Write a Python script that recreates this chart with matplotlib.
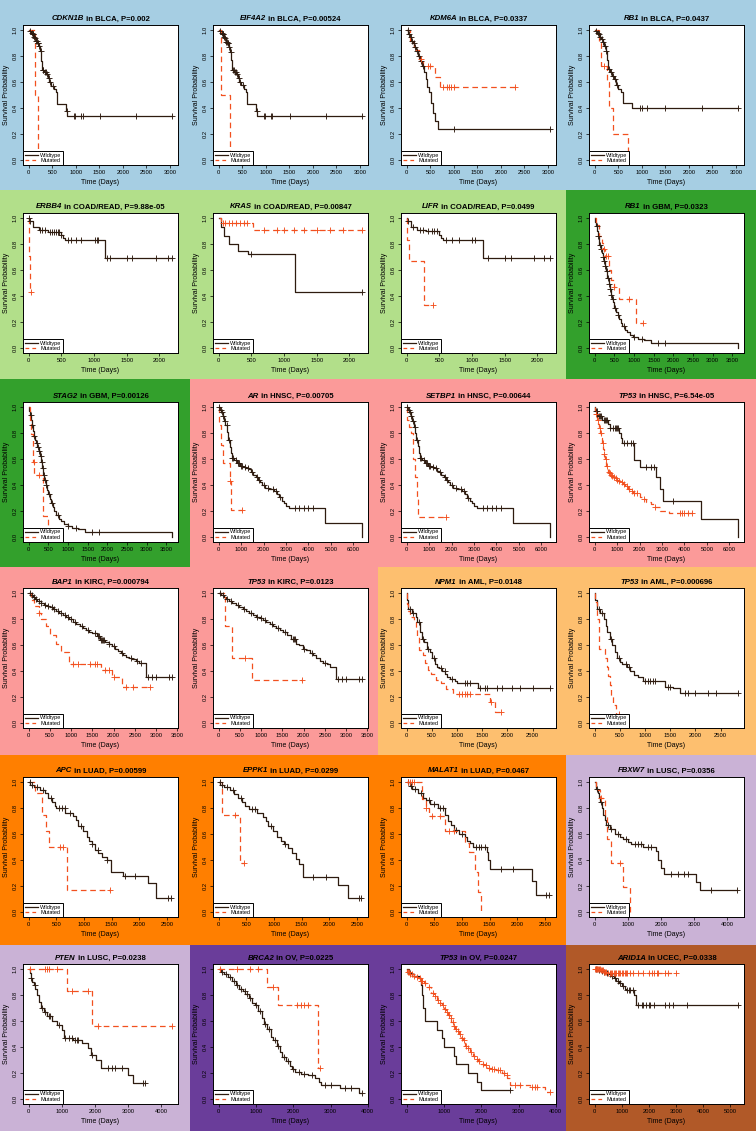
import numpy as np
import matplotlib
matplotlib.use("Agg")
import matplotlib.pyplot as plt
from matplotlib.patches import Rectangle
from matplotlib.lines import Line2D

plt.rcParams['font.family'] = ['Liberation Sans', 'DejaVu Sans']

W, H = 756, 1131

# ---------------- panel meta data ----------------
GENES = ['CDKN1B', 'EIF4A2', 'KDM6A', 'RB1',
         'ERBB4', 'KRAS', 'LIFR', 'RB1',
         'STAG2', 'AR', 'SETBP1', 'TP53',
         'BAP1', 'TP53', 'NPM1', 'TP53',
         'APC', 'EPPK1', 'MALAT1', 'FBXW7',
         'PTEN', 'BRCA2', 'TP53', 'ARID1A']
CANCERS = ['BLCA', 'BLCA', 'BLCA', 'BLCA',
           'COAD/READ', 'COAD/READ', 'COAD/READ', 'GBM',
           'GBM', 'HNSC', 'HNSC', 'HNSC',
           'KIRC', 'KIRC', 'AML', 'AML',
           'LUAD', 'LUAD', 'LUAD', 'LUSC',
           'LUSC', 'OV', 'OV', 'UCEC']
PVALUES = ['0.002', '0.00524', '0.0337', '0.0437',
           '9.88e-05', '0.00847', '0.0499', '0.0323',
           '0.00126', '0.00705', '0.00644', '6.54e-05',
           '0.000794', '0.0123', '0.0148', '0.000696',
           '0.00599', '0.0299', '0.0467', '0.0356',
           '0.0238', '0.0225', '0.0247', '0.0338']
XMAX = [3050, 3050, 3050, 3050,
        2200, 2200, 2200, 3650,
        3650, 6400, 6400, 6400,
        3380, 3380, 2850, 2850,
        2600, 2600, 2600, 4330,
        4330, 3850, 3850, 5300]
XSTEP = [500, 500, 500, 500,
         500, 500, 500, 500,
         500, 1000, 1000, 1000,
         500, 500, 500, 500,
         500, 500, 500, 1000,
         1000, 1000, 1000, 1000]
CANCER_COLORS = {'BLCA': '#a6cee3', 'COAD/READ': '#b2df8a', 'GBM': '#33a02c',
                 'HNSC': '#fb9a99', 'KIRC': '#fb9a99', 'AML': '#fdbf6f',
                 'LUAD': '#ff7f00', 'LUSC': '#cab2d6', 'OV': '#6a3d9a',
                 'UCEC': '#b15928'}
LEGEND_LABELS = ['Wildtype', 'Mutated']

# ---------------- curve data (event times, survival after event, censor times) ----------------
# 1 CDKN1B BLCA
wt01_t = [20, 50, 80, 110, 130, 150, 180, 210, 240, 260, 290, 330, 370, 400, 440, 480, 540, 570, 600, 800, 820]
wt01_s = [0.99, 0.98, 0.97, 0.95, 0.94, 0.92, 0.90, 0.88, 0.84, 0.76, 0.69, 0.68, 0.66, 0.63, 0.60, 0.57, 0.55, 0.52, 0.43, 0.38, 0.34]
wt01_c = [30, 60, 90, 100, 120, 140, 160, 170, 190, 200, 220, 250, 300, 310, 340, 360, 380, 420, 460, 520, 810, 960, 980, 1100, 1150, 1520, 2290, 3050]
mu01_t = [130, 200]
mu01_s = [0.5, 0.0]
mu01_c = []
# 2 EIF4A2 BLCA
wt02_t = [20, 50, 80, 110, 130, 150, 180, 210, 240, 260, 290, 330, 370, 400, 440, 480, 540, 570, 600, 800, 820]
wt02_s = [0.99, 0.98, 0.97, 0.95, 0.94, 0.91, 0.90, 0.87, 0.83, 0.77, 0.69, 0.68, 0.66, 0.63, 0.60, 0.58, 0.55, 0.52, 0.43, 0.38, 0.34]
wt02_c = [30, 60, 90, 100, 120, 140, 160, 170, 190, 200, 220, 250, 300, 320, 340, 360, 380, 420, 460, 520, 810, 960, 980, 1100, 1140, 1520, 2290, 3050]
mu02_t = [55, 245]
mu02_s = [0.5, 0.0]
mu02_c = []
# 3 KDM6A BLCA
wt03_t = [30, 60, 100, 130, 160, 200, 240, 280, 320, 360, 400, 440, 480, 520, 560, 600, 660]
wt03_s = [0.97, 0.95, 0.92, 0.90, 0.87, 0.84, 0.80, 0.76, 0.72, 0.68, 0.62, 0.56, 0.52, 0.44, 0.36, 0.30, 0.24]
wt03_c = [20, 50, 80, 120, 150, 180, 220, 260, 300, 350, 1000, 3050]
mu03_t = [60, 150, 250, 350, 600, 700]
mu03_s = [0.92, 0.85, 0.78, 0.72, 0.64, 0.56]
mu03_c = [300, 450, 500, 780, 850, 900, 950, 1000, 2300]
# 4 RB1 BLCA
wt04_t = [20, 50, 80, 110, 140, 170, 200, 230, 260, 290, 330, 370, 410, 450, 500, 550, 600, 800]
wt04_s = [0.99, 0.98, 0.97, 0.95, 0.93, 0.91, 0.88, 0.84, 0.77, 0.70, 0.68, 0.65, 0.62, 0.58, 0.55, 0.52, 0.44, 0.40]
wt04_c = [30, 60, 90, 120, 150, 180, 210, 240, 300, 350, 390, 430, 480, 960, 1000, 1100, 1500, 2290, 3050]
mu04_t = [90, 140, 260, 300, 380, 700]
mu04_s = [0.90, 0.72, 0.60, 0.40, 0.20, 0.0]
mu04_c = [200]
# 5 ERBB4 COAD/READ
wt05_t = [10, 60, 150, 300, 490, 520, 560, 1175]
wt05_s = [0.98, 0.93, 0.91, 0.89, 0.87, 0.85, 0.83, 0.69]
wt05_c = [5, 20, 170, 200, 250, 330, 360, 390, 420, 450, 470, 500, 600, 650, 720, 800, 1020, 1040, 1060, 1200, 1240, 1510, 1580, 1950, 2130, 2200]
mu05_t = [5, 10, 15, 25]
mu05_s = [0.86, 0.71, 0.57, 0.43]
mu05_c = [30]
# 6 KRAS COAD/READ
wt06_t = [30, 80, 150, 300, 450, 1170]
wt06_s = [0.93, 0.86, 0.80, 0.75, 0.72, 0.43]
wt06_c = [500, 2200]
mu06_t = [30, 520]
mu06_s = [0.96, 0.91]
mu06_c = [60, 100, 150, 200, 260, 320, 380, 440, 700, 900, 1000, 1150, 1300, 1500, 1700, 1900, 2200]
# 7 LIFR COAD/READ
wt07_t = [10, 60, 150, 300, 490, 520, 560, 1175]
wt07_s = [0.98, 0.93, 0.91, 0.90, 0.87, 0.85, 0.83, 0.69]
wt07_c = [20, 100, 200, 250, 330, 380, 420, 460, 600, 700, 800, 1000, 1050, 1250, 1500, 1600, 1950, 2100, 2200]
mu07_t = [10, 30, 270]
mu07_s = [0.83, 0.67, 0.33]
mu07_c = [400]
# 8 RB1 GBM
wt08_t = [10, 30, 60, 80, 100, 120, 150, 180, 200, 230, 260, 290, 320, 350, 380, 410, 440, 470, 500, 540,
          580, 620, 660, 700, 760, 820, 900, 980, 1100, 1250, 1430, 3650]
wt08_s = [0.97, 0.94, 0.90, 0.86, 0.82, 0.79, 0.76, 0.73, 0.70, 0.67, 0.63, 0.59, 0.54, 0.49, 0.45, 0.41, 0.38, 0.35, 0.31, 0.28,
          0.25, 0.22, 0.19, 0.17, 0.14, 0.12, 0.10, 0.08, 0.07, 0.06, 0.04, 0.0]
wt08_c = [50, 90, 140, 170, 210, 240, 270, 300, 330, 360, 390, 420, 460, 520, 600, 750, 1000, 1200, 1620, 1780]
mu08_t = [20, 100, 180, 220, 260, 370, 420, 480, 620, 1050]
mu08_s = [0.95, 0.86, 0.81, 0.76, 0.71, 0.60, 0.52, 0.47, 0.38, 0.19]
mu08_c = [230, 280, 330, 500, 870, 1230]
# 9 STAG2 GBM
wt09_t = [10, 30, 60, 80, 100, 130, 160, 190, 220, 250, 280, 310, 340, 370, 400, 430, 460, 490, 530, 570,
          610, 650, 700, 760, 820, 900, 1000, 1100, 1250, 1430, 3650]
wt09_s = [0.97, 0.94, 0.90, 0.86, 0.82, 0.78, 0.75, 0.72, 0.69, 0.66, 0.62, 0.58, 0.53, 0.48, 0.44, 0.40, 0.36, 0.33, 0.29, 0.26,
          0.23, 0.20, 0.17, 0.14, 0.12, 0.10, 0.08, 0.07, 0.06, 0.04, 0.0]
wt09_c = [50, 90, 140, 200, 240, 270, 300, 330, 360, 390, 420, 450, 520, 600, 750, 1000, 1200, 1620, 1780]
mu09_t = [25, 60, 120, 145, 350, 500]
mu09_s = [0.90, 0.79, 0.58, 0.48, 0.16, 0.0]
mu09_c = [130, 270]
# 10 AR HNSC
wt10_t = [50, 100, 170, 250, 300, 380, 430, 480, 530, 590, 700, 800, 950, 1100, 1220, 1350, 1430, 1550, 1640, 1750,
          1850, 1950, 2060, 2250, 2480, 2600, 2700, 2800, 2900, 3000, 3120, 4760, 6400]
wt10_s = [0.98, 0.96, 0.93, 0.89, 0.86, 0.81, 0.75, 0.69, 0.65, 0.61, 0.59, 0.57, 0.55, 0.54, 0.53, 0.52, 0.50, 0.48, 0.46, 0.44,
          0.42, 0.40, 0.38, 0.37, 0.35, 0.33, 0.31, 0.28, 0.26, 0.24, 0.22, 0.11, 0.0]
wt10_c = [30, 80, 150, 200, 280, 350, 450, 600, 650, 750, 850, 900, 1000, 1050, 1150, 1300, 1500, 1700, 1800, 2000,
          2200, 2400, 2550, 2750, 3400, 3600, 3800, 4000, 4200]
mu10_t = [10, 100, 170, 480, 540]
mu10_s = [0.86, 0.71, 0.57, 0.43, 0.21]
mu10_c = [490, 1050]
# 11 SETBP1 HNSC
wt11_t = [50, 100, 170, 250, 320, 380, 430, 480, 540, 600, 700, 820, 950, 1100, 1220, 1350, 1430, 1550, 1640, 1750,
          1850, 1950, 2060, 2250, 2480, 2600, 2700, 2800, 2900, 3000, 3120, 4760, 6400]
wt11_s = [0.98, 0.96, 0.93, 0.89, 0.85, 0.80, 0.75, 0.70, 0.65, 0.61, 0.59, 0.57, 0.55, 0.54, 0.53, 0.51, 0.50, 0.48, 0.46, 0.44,
          0.42, 0.40, 0.38, 0.37, 0.35, 0.33, 0.30, 0.28, 0.26, 0.24, 0.22, 0.11, 0.0]
wt11_c = [30, 80, 150, 200, 280, 350, 450, 600, 650, 750, 850, 900, 1000, 1050, 1150, 1300, 1500, 1700, 1800, 2000,
          2200, 2400, 2550, 2750, 3400, 3600, 3800, 4000, 4200]
mu11_t = [10, 100, 180, 300, 350, 450, 520]
mu11_s = [0.90, 0.85, 0.80, 0.60, 0.46, 0.30, 0.15]
mu11_c = [1750]
# 12 TP53 HNSC
wt12_t = [30, 100, 150, 330, 570, 690, 1100, 1150, 1200, 1730, 2000, 2750, 2900, 3060, 4760, 6400]
wt12_s = [0.97, 0.95, 0.93, 0.90, 0.87, 0.84, 0.80, 0.76, 0.72, 0.59, 0.54, 0.46, 0.37, 0.28, 0.14, 0.0]
wt12_c = [50, 80, 120, 200, 250, 300, 400, 450, 500, 550, 700, 800, 900, 950, 1000, 1050, 1300, 1450, 1600, 1700,
          2300, 2500, 2650, 3500]
mu12_t = [20, 50, 80, 120, 160, 200, 250, 300, 330, 370, 400, 430, 460, 490, 520, 560, 600, 650, 700, 750,
          820, 900, 980, 1050, 1150, 1250, 1330, 1400, 1500, 1600, 1700, 2000, 2150, 2300, 2500, 2700, 2900, 3300]
mu12_s = [0.98, 0.95, 0.92, 0.90, 0.87, 0.84, 0.80, 0.76, 0.72, 0.68, 0.64, 0.62, 0.60, 0.57, 0.55, 0.52, 0.50, 0.49, 0.48, 0.47,
          0.46, 0.45, 0.44, 0.43, 0.42, 0.41, 0.40, 0.39, 0.37, 0.35, 0.34, 0.31, 0.29, 0.27, 0.25, 0.23, 0.20, 0.18]
mu12_c = [60, 140, 220, 280, 350, 420, 480, 540, 620, 680, 720, 780, 850, 940, 1000, 1100, 1200, 1300, 1450, 1550,
          1650, 1750, 1870, 2200, 2700, 3800, 3900, 4000, 4150, 4350]
# 13 BAP1 KIRC
wt13_t = [50, 100, 150, 200, 280, 350, 420, 500, 580, 650, 720, 800, 880, 950, 1050, 1120, 1200, 1280, 1350, 1420,
          1500, 1600, 1680, 1800, 1880, 1950, 2040, 2100, 2170, 2230, 2300, 2370, 2440, 2520, 2600, 2760]
wt13_s = [0.985, 0.97, 0.955, 0.94, 0.925, 0.91, 0.90, 0.89, 0.875, 0.86, 0.845, 0.83, 0.815, 0.80, 0.775, 0.76, 0.745, 0.73, 0.715, 0.70,
          0.69, 0.67, 0.64, 0.62, 0.61, 0.59, 0.57, 0.555, 0.54, 0.525, 0.51, 0.50, 0.49, 0.475, 0.46, 0.35]
wt13_c = [30, 80, 130, 180, 240, 300, 380, 450, 540, 600, 700, 760, 850, 920, 1000, 1100, 1250, 1400, 1550, 1620,
          1650, 1700, 1720, 1750, 1780, 1900, 2000, 2200, 2400, 2550, 2650, 2800, 2900, 3000, 3300, 3380]
mu13_t = [50, 120, 230, 300, 400, 500, 640, 760, 950, 1700, 1950, 2200]
mu13_s = [0.95, 0.90, 0.85, 0.80, 0.75, 0.68, 0.61, 0.55, 0.45, 0.41, 0.35, 0.28]
mu13_c = [240, 1050, 1150, 1450, 1550, 1600, 1800, 1900, 2000, 2300, 2450, 2850]
# 14 TP53 KIRC
wt14_t = [60, 120, 180, 250, 320, 400, 480, 560, 640, 720, 800, 880, 960, 1040, 1120, 1200, 1280, 1360, 1440, 1520,
          1600, 1700, 1820, 1900, 1980, 2060, 2140, 2220, 2300, 2380, 2460, 2550, 2620, 2760]
wt14_s = [0.985, 0.97, 0.955, 0.94, 0.925, 0.91, 0.895, 0.88, 0.865, 0.85, 0.835, 0.82, 0.805, 0.79, 0.775, 0.76, 0.745, 0.73, 0.715, 0.70,
          0.68, 0.65, 0.61, 0.60, 0.57, 0.56, 0.54, 0.52, 0.50, 0.48, 0.46, 0.45, 0.43, 0.34]
wt14_c = [30, 100, 200, 300, 450, 600, 750, 900, 1000, 1100, 1250, 1400, 1550, 1750, 1780, 1800, 2000, 2200, 2500, 2800,
          2900, 3000, 3300, 3380]
mu14_t = [140, 320, 790]
mu14_s = [0.75, 0.50, 0.33]
mu14_c = [620, 1950]
# 15 NPM1 AML
wt15_t = [5, 30, 110, 180, 210, 260, 300, 350, 400, 460, 510, 570, 600, 640, 700, 760, 800, 860, 960, 1000, 1420]
wt15_s = [0.95, 0.88, 0.85, 0.82, 0.78, 0.70, 0.65, 0.62, 0.57, 0.55, 0.50, 0.45, 0.43, 0.42, 0.40, 0.38, 0.35, 0.34, 0.32, 0.31, 0.27]
wt15_c = [60, 120, 250, 330, 420, 540, 680, 750, 900, 1150, 1200, 1250, 1450, 1550, 1600, 1800, 1900, 2100, 2250, 2500, 2850]
mu15_t = [10, 30, 70, 140, 190, 210, 250, 320, 370, 420, 480, 590, 690, 780, 920, 1660, 1760]
mu15_s = [0.92, 0.86, 0.82, 0.78, 0.73, 0.66, 0.56, 0.52, 0.46, 0.41, 0.38, 0.33, 0.31, 0.26, 0.22, 0.16, 0.08]
mu15_c = [1040, 1100, 1150, 1200, 1250, 1670, 1880]
# 16 TP53 AML
wt16_t = [5, 50, 100, 180, 220, 250, 300, 350, 400, 450, 500, 550, 650, 700, 780, 850, 950, 1400, 1550, 1700]
wt16_s = [0.95, 0.88, 0.85, 0.80, 0.75, 0.70, 0.65, 0.60, 0.55, 0.50, 0.47, 0.45, 0.43, 0.40, 0.37, 0.35, 0.32, 0.28, 0.27, 0.23]
wt16_c = [80, 150, 320, 480, 620, 680, 1000, 1050, 1100, 1150, 1200, 1450, 1500, 1800, 1850, 2000, 2250, 2400, 2850]
mu16_t = [10, 40, 80, 200, 240, 270, 300, 330, 370, 420]
mu16_s = [0.93, 0.80, 0.57, 0.50, 0.43, 0.36, 0.29, 0.21, 0.14, 0.07]
mu16_c = [480]
# 17 APC LUAD
wt17_t = [30, 100, 200, 300, 350, 420, 480, 500, 660, 800, 850, 900, 980, 1050, 1100, 1150, 1200, 1260, 1330, 1420,
          1490, 1700, 2160, 2300]
wt17_s = [0.98, 0.96, 0.94, 0.92, 0.88, 0.85, 0.82, 0.80, 0.76, 0.74, 0.71, 0.66, 0.62, 0.58, 0.55, 0.52, 0.48, 0.45, 0.42, 0.40,
          0.31, 0.28, 0.22, 0.11]
wt17_c = [20, 60, 150, 250, 400, 550, 600, 650, 750, 950, 1150, 1250, 1420, 1750, 1920, 2530, 2580]
mu17_t = [120, 240, 320, 370, 690]
mu17_s = [0.92, 0.75, 0.62, 0.50, 0.17]
mu17_c = [570, 620, 1470]
# 18 EPPK1 LUAD
wt18_t = [30, 100, 200, 280, 350, 420, 480, 540, 700, 800, 850, 900, 980, 1050, 1120, 1180, 1250, 1320, 1400, 1450,
          1520, 2160, 2350]
wt18_s = [0.98, 0.96, 0.94, 0.91, 0.88, 0.85, 0.82, 0.79, 0.76, 0.73, 0.70, 0.66, 0.62, 0.58, 0.55, 0.52, 0.49, 0.45, 0.41, 0.37,
          0.27, 0.21, 0.11]
wt18_c = [20, 60, 150, 250, 400, 600, 650, 950, 1200, 1700, 1950, 2550, 2580]
mu18_t = [60, 380]
mu18_s = [0.75, 0.375]
mu18_c = [290, 450]
# 19 MALAT1 LUAD
wt19_t = [50, 100, 200, 300, 350, 420, 560, 700, 750, 800, 850, 950, 1050, 1100, 1150, 1200, 1450, 1480, 1500, 2270, 2350]
wt19_s = [0.97, 0.95, 0.92, 0.88, 0.86, 0.83, 0.80, 0.75, 0.70, 0.67, 0.63, 0.60, 0.58, 0.55, 0.53, 0.50, 0.46, 0.40, 0.33, 0.24, 0.13]
wt19_c = [20, 80, 150, 250, 400, 500, 600, 650, 900, 1000, 1250, 1300, 1350, 1420, 1700, 1930, 2520, 2580]
mu19_t = [280, 340, 400, 700, 1050, 1130, 1230, 1290, 1340]
mu19_s = [0.87, 0.80, 0.74, 0.62, 0.53, 0.46, 0.31, 0.15, 0.0]
mu19_c = [30, 60, 100, 140, 350, 450, 600, 760, 860]
# 20 FBXW7 LUSC
wt20_t = [30, 50, 100, 130, 150, 210, 250, 300, 350, 450, 600, 750, 850, 1000, 1100, 1450, 1850, 1915, 1985, 2100, 3060, 3180]
wt20_s = [0.97, 0.95, 0.92, 0.88, 0.85, 0.80, 0.75, 0.71, 0.67, 0.64, 0.60, 0.58, 0.56, 0.54, 0.52, 0.50, 0.47, 0.40, 0.34, 0.29, 0.23, 0.17]
wt20_c = [80, 200, 400, 500, 700, 950, 1200, 1300, 1400, 1600, 1700, 2300, 2500, 2700, 2800, 3500, 4300]
mu20_t = [30, 150, 300, 370, 480, 860, 1060]
mu20_s = [0.94, 0.88, 0.75, 0.56, 0.375, 0.19, 0.0]
mu20_c = [200, 760]
# 21 PTEN LUSC
wt21_t = [30, 60, 100, 150, 200, 250, 300, 380, 450, 560, 700, 850, 1000, 1050, 1350, 1610, 1800, 1870, 2035, 2190, 2990, 3160]
wt21_s = [0.97, 0.93, 0.90, 0.88, 0.85, 0.80, 0.75, 0.70, 0.67, 0.64, 0.60, 0.57, 0.53, 0.47, 0.45, 0.43, 0.39, 0.34, 0.30, 0.24, 0.18, 0.12]
wt21_c = [80, 180, 400, 500, 600, 650, 900, 1100, 1200, 1300, 1400, 1450, 1500, 1900, 2400, 2500, 2600, 2800, 3450, 3500]
mu21_t = [1150, 1900]
mu21_s = [0.83, 0.56]
mu21_c = [50, 500, 550, 600, 850, 1300, 1800, 2100, 4330]
# 22 BRCA2 OV
wt22_t = [50, 150, 250, 350, 450, 550, 650, 710, 800, 900, 960, 1050, 1150, 1210, 1300, 1400, 1460, 1550, 1650, 1710,
          1800, 1900, 1955, 2050, 2200, 2400, 2580, 2700, 2750, 3260, 3760]
wt22_s = [0.98, 0.96, 0.94, 0.91, 0.88, 0.85, 0.83, 0.81, 0.78, 0.74, 0.72, 0.68, 0.62, 0.58, 0.54, 0.48, 0.45, 0.41, 0.36, 0.32,
          0.29, 0.25, 0.23, 0.21, 0.19, 0.18, 0.16, 0.13, 0.11, 0.08, 0.045]
wt22_c = [100, 200, 300, 400, 500, 600, 700, 750, 850, 1000, 1100, 1250, 1350, 1500, 1600, 1750, 1850, 2000, 2150, 2300,
          2500, 2850, 3000, 3400, 3550, 3850]
mu22_t = [1300, 1600, 2650]
mu22_s = [0.86, 0.72, 0.24]
mu22_c = [30, 500, 850, 1050, 1450, 2100, 2200, 2300, 2400, 2720]
# 23 TP53 OV
wt23_t = [50, 150, 320, 380, 420, 440, 490, 820, 940, 1010, 1270, 1330, 1650, 1880, 1990]
wt23_s = [0.97, 0.95, 0.93, 0.88, 0.80, 0.70, 0.60, 0.53, 0.47, 0.40, 0.33, 0.27, 0.20, 0.13, 0.07]
wt23_c = [100, 2780]
mu23_t = [20, 80, 150, 250, 300, 370, 450, 550, 650, 720, 800, 880, 950, 1000, 1050, 1100, 1150, 1200, 1250, 1300,
          1350, 1400, 1450, 1500, 1570, 1620, 1700, 1780, 1850, 1920, 2000, 2080, 2150, 2250, 2400, 2550, 2650, 2700, 2780, 3300,
          3700]
mu23_s = [0.98, 0.96, 0.95, 0.94, 0.93, 0.91, 0.89, 0.86, 0.82, 0.79, 0.76, 0.74, 0.72, 0.69, 0.67, 0.65, 0.62, 0.59, 0.56, 0.54,
          0.52, 0.50, 0.47, 0.45, 0.41, 0.39, 0.36, 0.33, 0.31, 0.29, 0.27, 0.26, 0.24, 0.23, 0.22, 0.20, 0.18, 0.16, 0.11, 0.09,
          0.05]
mu23_c = [30, 60, 100, 130, 200, 280, 350, 380, 400, 420, 500, 600, 700, 750, 850, 900, 980, 1030, 1080, 1130,
          1180, 1230, 1280, 1330, 1380, 1430, 1480, 1530, 1600, 1650, 1730, 1800, 1880, 1950, 2050, 2120, 2200, 2300, 2350, 2450,
          2500, 2600, 2680, 2900, 3050, 3350, 3450, 3500, 3850]
# 24 ARID1A UCEC
wt24_t = [100, 200, 300, 400, 500, 600, 700, 800, 900, 1000, 1100, 1150, 1450, 1520]
wt24_s = [0.99, 0.985, 0.98, 0.97, 0.96, 0.95, 0.93, 0.91, 0.89, 0.87, 0.85, 0.84, 0.80, 0.72]
wt24_c = [50, 150, 250, 350, 450, 550, 650, 750, 850, 950, 1050, 1200, 1250, 1300, 1400, 1600, 1750, 1800, 1900, 2000,
          2050, 2200, 2600, 2750, 2900, 3400, 5300]
mu24_t = [200, 300, 450]
mu24_s = [0.99, 0.98, 0.97]
mu24_c = [20, 50, 80, 100, 130, 160, 190, 230, 260, 290, 330, 370, 400, 500, 550, 600, 650, 700, 750, 800,
          850, 900, 950, 1000, 1050, 1100, 1150, 1200, 1300, 1400, 1600, 1800, 2000, 2100, 2200, 2300, 2350, 2600, 2700, 3000]

WT_DATA = [(wt01_t, wt01_s, wt01_c), (wt02_t, wt02_s, wt02_c), (wt03_t, wt03_s, wt03_c), (wt04_t, wt04_s, wt04_c),
           (wt05_t, wt05_s, wt05_c), (wt06_t, wt06_s, wt06_c), (wt07_t, wt07_s, wt07_c), (wt08_t, wt08_s, wt08_c),
           (wt09_t, wt09_s, wt09_c), (wt10_t, wt10_s, wt10_c), (wt11_t, wt11_s, wt11_c), (wt12_t, wt12_s, wt12_c),
           (wt13_t, wt13_s, wt13_c), (wt14_t, wt14_s, wt14_c), (wt15_t, wt15_s, wt15_c), (wt16_t, wt16_s, wt16_c),
           (wt17_t, wt17_s, wt17_c), (wt18_t, wt18_s, wt18_c), (wt19_t, wt19_s, wt19_c), (wt20_t, wt20_s, wt20_c),
           (wt21_t, wt21_s, wt21_c), (wt22_t, wt22_s, wt22_c), (wt23_t, wt23_s, wt23_c), (wt24_t, wt24_s, wt24_c)]
MU_DATA = [(mu01_t, mu01_s, mu01_c), (mu02_t, mu02_s, mu02_c), (mu03_t, mu03_s, mu03_c), (mu04_t, mu04_s, mu04_c),
           (mu05_t, mu05_s, mu05_c), (mu06_t, mu06_s, mu06_c), (mu07_t, mu07_s, mu07_c), (mu08_t, mu08_s, mu08_c),
           (mu09_t, mu09_s, mu09_c), (mu10_t, mu10_s, mu10_c), (mu11_t, mu11_s, mu11_c), (mu12_t, mu12_s, mu12_c),
           (mu13_t, mu13_s, mu13_c), (mu14_t, mu14_s, mu14_c), (mu15_t, mu15_s, mu15_c), (mu16_t, mu16_s, mu16_c),
           (mu17_t, mu17_s, mu17_c), (mu18_t, mu18_s, mu18_c), (mu19_t, mu19_s, mu19_c), (mu20_t, mu20_s, mu20_c),
           (mu21_t, mu21_s, mu21_c), (mu22_t, mu22_s, mu22_c), (mu23_t, mu23_s, mu23_c), (mu24_t, mu24_s, mu24_c)]

# ---------------- layout (pixels) ----------------
COL_EDGES = [0, 190, 378, 566, 756]
ROW_EDGES = [0, 190, 379, 567, 755, 945, 1131]
BOX_TOP = [25, 213, 402, 588, 777, 964]
BOX_H = 140
BOX_LEFT_OFF = 23
BOX_W = 155

WT_COLOR = '#2e1b0f'
MU_COLOR = '#f2501f'

fig = plt.figure(figsize=(W / 100, H / 100), dpi=100)

# background axis covering the whole figure, used only for the coloured cells
bg = fig.add_axes([0, 0, 1, 1], zorder=-5)
bg.set_xlim(0, W)
bg.set_ylim(H, 0)
bg.axis('off')


def surv_at(T, S, t):
    s = 1.0
    for ti, si in zip(T, S):
        if ti <= t:
            s = si
    return s


def draw_curve(ax, T, S, C, color, dashed):
    end = max(list(T) + list(C))
    xs = [0] + list(T) + [end]
    ys = [1.0] + list(S) + [S[-1]]
    kw = dict(color=color, lw=0.9, where='post', zorder=3)
    if dashed:
        ax.step(xs, ys, dashes=(4.5, 3.0), **kw)
    else:
        ax.step(xs, ys, **kw)
    if C:
        cy = [surv_at(T, S, c) for c in C]
        ax.plot(C, cy, '+', color=color, ms=3.8, mew=0.65, zorder=4)


axes = []
for i in range(24):
    r, c = divmod(i, 4)
    cancer = CANCERS[i]
    x0, x1 = COL_EDGES[c], COL_EDGES[c + 1]
    y0, y1 = ROW_EDGES[r], ROW_EDGES[r + 1]
    bg.add_patch(Rectangle((x0, y0), x1 - x0, y1 - y0, facecolor=CANCER_COLORS[cancer],
                           edgecolor='none'))
    left = x0 + BOX_LEFT_OFF
    top = BOX_TOP[r]
    ax = fig.add_axes([left / W, 1 - (top + BOX_H) / H, BOX_W / W, BOX_H / H], zorder=2)
    ax.set_facecolor('white')
    axes.append(ax)

    wt = WT_DATA[i]
    mu = MU_DATA[i]
    draw_curve(ax, *wt, WT_COLOR, False)
    draw_curve(ax, *mu, MU_COLOR, True)

    xmax = XMAX[i]
    ax.set_xlim(-0.04 * xmax, 1.04 * xmax)
    ax.set_ylim(-0.04, 1.04)
    xt = np.arange(0, xmax * 1.04 + 1, XSTEP[i])
    ax.set_xticks(xt)
    ax.set_xticklabels([str(int(v)) for v in xt])
    yt = [0.0, 0.2, 0.4, 0.6, 0.8, 1.0]
    ax.set_yticks(yt)
    ax.set_yticklabels(['%.1f' % v for v in yt], rotation=90, va='center')
    ax.tick_params(labelsize=4.2, length=2.2, width=0.5, pad=1.5, colors='black')
    for sp in ax.spines.values():
        sp.set_linewidth(0.7)
        sp.set_color('black')
    ax.set_xlabel('Time (Days)', fontsize=5.0, labelpad=2.5)
    ax.set_ylabel('Survival Probability', fontsize=5.0, labelpad=2.0)

    handles = [Line2D([], [], color=WT_COLOR, lw=0.9),
               Line2D([], [], color=MU_COLOR, lw=0.9, dashes=(3, 2.5))]
    leg = ax.legend(handles, LEGEND_LABELS, loc='lower left', borderaxespad=0, fontsize=4.0,
                    handlelength=2.4, handletextpad=0.4, labelspacing=0.15, borderpad=0.3,
                    fancybox=False, framealpha=1, edgecolor='black')
    leg.get_frame().set_linewidth(0.7)

# titles: bold-italic gene name followed by bold text, centred above each box
fig.canvas.draw()
rend = fig.canvas.get_renderer()
TITLE_FS = 5.6
for i, ax in enumerate(axes):
    r, c = divmod(i, 4)
    gene_txt = fig.text(0, 0, GENES[i], fontsize=TITLE_FS, fontweight='bold', fontstyle='italic',
                        ha='left', va='baseline', zorder=5)
    rest_txt = fig.text(0, 0, ' in %s, P=%s' % (CANCERS[i], PVALUES[i]), fontsize=TITLE_FS,
                        fontweight='bold', ha='left', va='baseline', zorder=5)
    w1 = gene_txt.get_window_extent(rend).width
    w2 = rest_txt.get_window_extent(rend).width
    cx = COL_EDGES[c] + BOX_LEFT_OFF + BOX_W / 2
    base_y = BOX_TOP[r] - 4.5
    xs = cx - (w1 + w2) / 2
    gene_txt.set_position((xs / W, 1 - base_y / H))
    rest_txt.set_position(((xs + w1) / W, 1 - base_y / H))

fig.savefig('out.png', dpi=100)
